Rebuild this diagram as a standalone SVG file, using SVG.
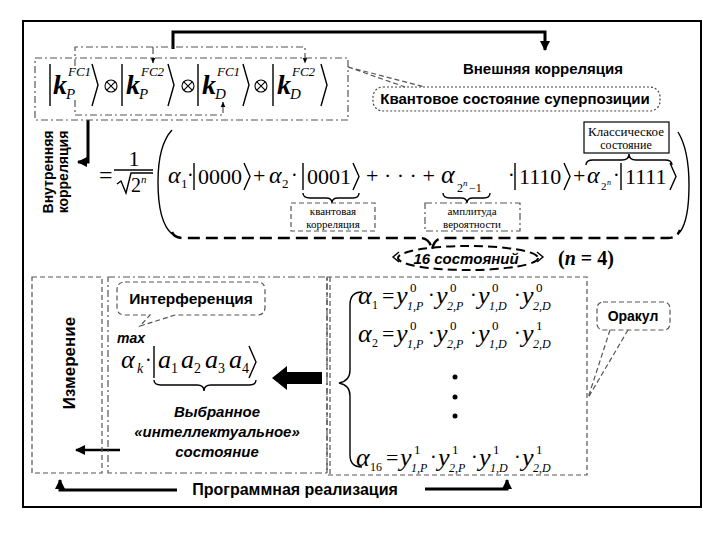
<svg xmlns="http://www.w3.org/2000/svg" width="720" height="540" viewBox="0 0 720 540">
<defs>
<style>
.m{font-family:"Liberation Serif","Times New Roman",serif;font-style:italic;fill:#000}
.u{font-family:"Liberation Serif","Times New Roman",serif;fill:#000}
.b{font-family:"Liberation Sans",Arial,sans-serif;font-weight:bold;fill:#000}
.bi{font-family:"Liberation Sans",Arial,sans-serif;font-weight:bold;font-style:italic;fill:#000}
.ln{fill:none;stroke:#000;stroke-width:1.4}
.thick{fill:none;stroke:#000;stroke-width:3}
.dash{fill:none;stroke:#555;stroke-width:1.2;stroke-dasharray:5,3}
.dashdot{fill:none;stroke:#555;stroke-width:1.2;stroke-dasharray:7,3,2,3}
.dot{fill:none;stroke:#444;stroke-width:1.2;stroke-dasharray:2,2}
.ot{fill:none;stroke:#000;stroke-width:1.1}
</style>
<marker id="ah" viewBox="0 0 10 10" refX="9" refY="5" markerUnits="userSpaceOnUse" markerWidth="10" markerHeight="10" orient="auto"><path d="M0,0 L10,5 L0,10 z" fill="#000"/></marker>
<marker id="ahs" viewBox="0 0 10 10" refX="9" refY="5" markerUnits="userSpaceOnUse" markerWidth="6" markerHeight="6" orient="auto"><path d="M0,1 L10,5 L0,9 z" fill="#000"/></marker>
</defs>
<rect width="720" height="540" fill="#fff"/>
<rect x="23" y="21" width="678" height="486" fill="none" stroke="#000" stroke-width="2"/>

<g id="connectors">
<path class="thick" d="M173,49 L173,32 L545,32 L545,50" marker-end="url(#ah)"/>
<path class="dashdot" d="M75,66 L75,47 L305,47 L305,63" marker-end="url(#ahs)"/>
<path class="dashdot" d="M153,47 L153,63" marker-end="url(#ahs)"/>
<path class="dashdot" d="M75,100 L75,115 L223,115 L223,102" marker-end="url(#ahs)"/>
<path class="thick" d="M88,120 L88,162 L78,162" marker-end="url(#ah)"/>
<path class="dash" d="M348,67 L405,87 M348,67 L425,87"/>
<path fill="none" stroke="#000" stroke-width="2.5" d="M120,450 L76,450" marker-end="url(#ah)"/>
<path class="thick" stroke-width="2.5" d="M177,490 L60,490 L60,480" marker-end="url(#ah)"/>
<path class="thick" stroke-width="2.5" d="M425,489 L507,489 L507,480" marker-end="url(#ah)"/>
<path d="M272,378 L287,366 L287,372 L322,372 L322,384 L287,384 L287,390 z" fill="#000"/>
<path class="dash" d="M610,330 L588,398 M628,330 L588,398"/>
</g>

<g id="superposition-state">
<rect class="dashdot" x="35" y="58" width="313" height="62"/>
<path class="ln" stroke-width="1.6" d="M50,64 L50,106 M92,64 L98,85 L92,106"/>
<text class="m" x="53" y="94" font-size="28" font-weight="bold">k</text>
<text class="m" x="68" y="76" font-size="13">FC1</text>
<text class="m" x="66" y="99" font-size="15">P</text>
<g class="ot"><circle cx="111" cy="86" r="6"/><path d="M106.8,81.8 L115.2,90.2 M115.2,81.8 L106.8,90.2"/></g>
<path class="ln" stroke-width="1.6" d="M122,64 L122,106 M168,64 L174,85 L168,106"/>
<text class="m" x="126" y="94" font-size="28" font-weight="bold">k</text>
<text class="m" x="141" y="76" font-size="13">FC2</text>
<text class="m" x="139" y="99" font-size="15">P</text>
<g class="ot"><circle cx="188" cy="86" r="6"/><path d="M183.8,81.8 L192.2,90.2 M192.2,81.8 L183.8,90.2"/></g>
<path class="ln" stroke-width="1.6" d="M198,64 L198,106 M243,64 L249,85 L243,106"/>
<text class="m" x="202" y="94" font-size="28" font-weight="bold">k</text>
<text class="m" x="217" y="76" font-size="13">FC1</text>
<text class="m" x="215" y="99" font-size="15">D</text>
<g class="ot"><circle cx="261" cy="86" r="6"/><path d="M256.8,81.8 L265.2,90.2 M265.2,81.8 L256.8,90.2"/></g>
<path class="ln" stroke-width="1.6" d="M273,64 L273,106 M321,64 L327,85 L321,106"/>
<text class="m" x="277" y="94" font-size="28" font-weight="bold">k</text>
<text class="m" x="292" y="76" font-size="13">FC2</text>
<text class="m" x="290" y="99" font-size="15">D</text>
</g>

<g id="external-correlation">
<text class="b" x="543" y="74" font-size="15" text-anchor="middle">Внешняя корреляция</text>
</g>

<g id="superposition-callout">
<rect class="dot" x="373" y="87" width="287" height="24" rx="10"/>
<text class="b" x="515" y="104" font-size="15" text-anchor="middle">Квантовое состояние суперпозиции</text>
</g>

<g id="internal-correlation">
<text class="b" font-size="14" text-anchor="middle" transform="translate(53,172) rotate(-90)">Внутренняя</text>
<text class="b" font-size="14" text-anchor="middle" transform="translate(68,172) rotate(-90)">корреляция</text>
</g>

<g id="formula">
<text class="u" x="99" y="183" font-size="24">=</text>
<text class="u" x="134" y="166" font-size="22" text-anchor="middle">1</text>
<path class="ln" stroke-width="1.5" d="M114,170 L153,170"/>
<path class="ln" d="M117,184 L121,181 L126,193 L131,173 L153,173"/>
<text class="u" x="131" y="192" font-size="20">2</text>
<text class="m" x="141" y="183" font-size="11">n</text>
<path class="ln" d="M172,130 Q158,145 158,182 Q158,222 172,234"/>
<text class="m" x="168" y="183" font-size="24">α</text>
<text class="u" x="181" y="188" font-size="13">1</text>
<text class="u" x="187" y="182" font-size="20">·</text>
<path class="ln" d="M194,163 L194,190 M244,163 L250,176.5 L244,190"/>
<text class="u" x="198" y="184" font-size="22">0000</text>
<text class="u" x="253" y="183" font-size="22">+</text>
<text class="m" x="269" y="183" font-size="24">α</text>
<text class="u" x="282" y="188" font-size="13">2</text>
<text class="u" x="291" y="182" font-size="20">·</text>
<path class="ln" d="M303,163 L303,190 M353,163 L359,176.5 L353,190"/>
<text class="u" x="307" y="184" font-size="22">0001</text>
<text class="u" x="366" y="183" font-size="22">+ · · · +</text>
<text class="m" x="441" y="183" font-size="26">α</text>
<text class="u" x="457" y="192" font-size="12">2</text>
<text class="m" x="463" y="186" font-size="9">n</text>
<text class="u" x="469" y="192" font-size="12">−1</text>
<text class="u" x="508" y="182" font-size="20">·</text>
<path class="ln" d="M515,163 L515,190 M564,163 L570,176.5 L564,190"/>
<text class="u" x="519" y="184" font-size="22">1110</text>
<text class="u" x="573" y="183" font-size="22">+</text>
<text class="m" x="587" y="183" font-size="24">α</text>
<text class="u" x="601" y="190" font-size="11">2</text>
<text class="m" x="607" y="185" font-size="8">n</text>
<text class="u" x="613" y="182" font-size="20">·</text>
<path class="ln" d="M621,163 L621,190 M670,163 L676,176.5 L670,190"/>
<text class="u" x="625" y="184" font-size="22">1111</text>
<path class="ln" d="M678,132 Q689,150 689,185 Q689,220 680,232"/>
<path class="ln" d="M303,193 Q303,198 310,198 L326,198 Q332,198 332,203 Q332,198 338,198 L353,198 Q359,198 359,193"/>
<path class="ln" d="M443,193 Q443,198 450,198 L461,198 Q467,198 467,203 Q467,198 473,198 L484,198 Q490,198 490,193"/>
<path class="ln" d="M586,165 Q586,160 593,160 L622,160 Q629,160 629,154 Q629,160 636,160 L665,160 Q672,160 672,165"/>
<path fill="none" stroke="#000" stroke-width="2.5" stroke-dasharray="12,6" d="M172,232 Q174,238 184,238 L420,238 Q430,238 432,250 Q434,238 444,238 L668,238 Q677,238 680,230"/>
</g>

<g id="quantum-correlation-box">
<rect class="dash" x="291" y="203" width="84" height="28"/>
<text class="u" x="333" y="215" font-size="11" text-anchor="middle">квантовая</text>
<text class="u" x="333" y="228" font-size="11" text-anchor="middle">корреляция</text>
</g>
<g id="amplitude-box">
<rect class="dashdot" x="425" y="203" width="95" height="28"/>
<text class="u" x="472" y="215" font-size="11" text-anchor="middle">амплитуда</text>
<text class="u" x="472" y="228" font-size="11" text-anchor="middle">вероятности</text>
</g>
<g id="classical-box">
<rect fill="#fff" stroke="#000" stroke-width="1.2" x="584" y="122" width="85" height="31"/>
<text class="u" x="626" y="136" font-size="13" text-anchor="middle">Классическое</text>
<text class="u" x="626" y="149" font-size="12" text-anchor="middle">состояние</text>
</g>

<g id="states-16">
<ellipse cx="468" cy="258" rx="70" ry="12" fill="none" stroke="#000" stroke-width="2" stroke-dasharray="9,5"/>
<path class="ln" stroke-width="2.5" d="M399,252 L393,257 L399,262 M537,252 L543,257 L537,262"/>
<text class="bi" x="466" y="264" font-size="15" text-anchor="middle">16 состояний</text>
<text class="u" x="558" y="265" font-size="20" font-weight="bold">(<tspan font-style="italic">n</tspan> = 4)</text>
</g>

<g id="measurement">
<rect class="dash" x="32" y="277" width="70" height="196"/>
<text class="b" font-size="17" text-anchor="middle" transform="translate(75,363) rotate(-90)">Измерение</text>
</g>

<g id="selected-state">
<rect class="dashdot" x="108" y="277" width="219" height="196"/>
<path class="dash" d="M125,282 L257,282 Q265,282 265,290 L265,307 Q265,315 257,315 L175,315 L140,326 L150,315 L125,315 Q117,315 117,307 L117,290 Q117,282 125,282 z"/>
<text class="b" x="191" y="304" font-size="15.5" text-anchor="middle">Интерференция</text>
<text class="bi" x="117" y="343" font-size="14">max</text>
<text class="m" x="121" y="368" font-size="26">α</text>
<text class="m" x="137" y="373" font-size="14">k</text>
<text class="u" x="145" y="367" font-size="20">·</text>
<path class="ln" d="M154,346 L154,378 M249,346 L256,362 L249,378"/>
<text class="m" x="158" y="368" font-size="26">a</text>
<text class="u" x="171" y="373" font-size="14">1</text>
<text class="m" x="181" y="368" font-size="26">a</text>
<text class="u" x="194" y="373" font-size="14">2</text>
<text class="m" x="205" y="368" font-size="26">a</text>
<text class="u" x="218" y="373" font-size="14">3</text>
<text class="m" x="229" y="368" font-size="26">a</text>
<text class="u" x="242" y="373" font-size="14">4</text>
<path class="ln" d="M154,380 Q154,385 161,385 L197,385 Q204,385 204,391 Q204,385 211,385 L249,385 Q256,385 256,380"/>
<text class="bi" x="217" y="417" font-size="15" text-anchor="middle">Выбранное</text>
<text class="bi" x="217" y="437" font-size="15" text-anchor="middle">«интеллектуальное»</text>
<text class="bi" x="217" y="457" font-size="15" text-anchor="middle">состояние</text>
</g>

<g id="oracle-states">
<rect class="dash" x="327" y="277" width="260" height="198"/>
<path class="dash" d="M330,277 L330,475"/>
<path class="ln" d="M362,292 Q350,292 350,305 L350,370 Q350,381 339,383 Q350,385 350,396 L350,455 Q350,467 362,467"/>
<g class="m" font-size="26">
<text x="358" y="304">α</text><text x="396" y="304">y</text><text x="436" y="304">y</text><text x="478" y="304">y</text><text x="522" y="304">y</text>
<text x="358" y="342">α</text><text x="396" y="342">y</text><text x="436" y="342">y</text><text x="478" y="342">y</text><text x="522" y="342">y</text>
<text x="356" y="466">α</text><text x="400" y="466">y</text><text x="438" y="466">y</text><text x="479" y="466">y</text><text x="522" y="466">y</text>
</g>
<g class="u" font-size="22">
<text x="382" y="303">=</text><text x="382" y="341">=</text><text x="386" y="465">=</text>
</g>
<g class="u" font-size="20">
<text x="428" y="302">·</text><text x="470" y="302">·</text><text x="514" y="302">·</text>
<text x="428" y="340">·</text><text x="470" y="340">·</text><text x="514" y="340">·</text>
<text x="430" y="464">·</text><text x="471" y="464">·</text><text x="514" y="464">·</text>
</g>
<g class="u" font-size="12">
<text x="372" y="309">1</text><text x="372" y="347">2</text><text x="370" y="471">16</text>
</g>
<g class="u" font-size="13">
<text x="410" y="292">0</text><text x="450" y="292">0</text><text x="492" y="292">0</text><text x="536" y="292">0</text>
<text x="410" y="330">0</text><text x="450" y="330">0</text><text x="492" y="330">0</text><text x="536" y="330">1</text>
<text x="414" y="454">1</text><text x="452" y="454">1</text><text x="493" y="454">1</text><text x="536" y="454">1</text>
</g>
<g class="m" font-size="12">
<text x="407" y="310">1,P</text><text x="447" y="310">2,P</text><text x="489" y="310">1,D</text><text x="533" y="310">2,D</text>
<text x="407" y="348">1,P</text><text x="447" y="348">2,P</text><text x="489" y="348">1,D</text><text x="533" y="348">2,D</text>
<text x="411" y="472">1,P</text><text x="449" y="472">2,P</text><text x="490" y="472">1,D</text><text x="533" y="472">2,D</text>
</g>
<circle cx="455" cy="377" r="2.5"/><circle cx="455" cy="397" r="2.5"/><circle cx="455" cy="416" r="2.5"/>
</g>

<g id="oracle">
<rect class="dash" x="597" y="302" width="73" height="28" rx="6" fill="#fff"/>
<text class="b" x="633" y="321" font-size="14" text-anchor="middle">Оракул</text>
</g>

<g id="program-label">
<text class="b" x="295" y="495" font-size="16" text-anchor="middle">Программная реализация</text>
</g>
</svg>
